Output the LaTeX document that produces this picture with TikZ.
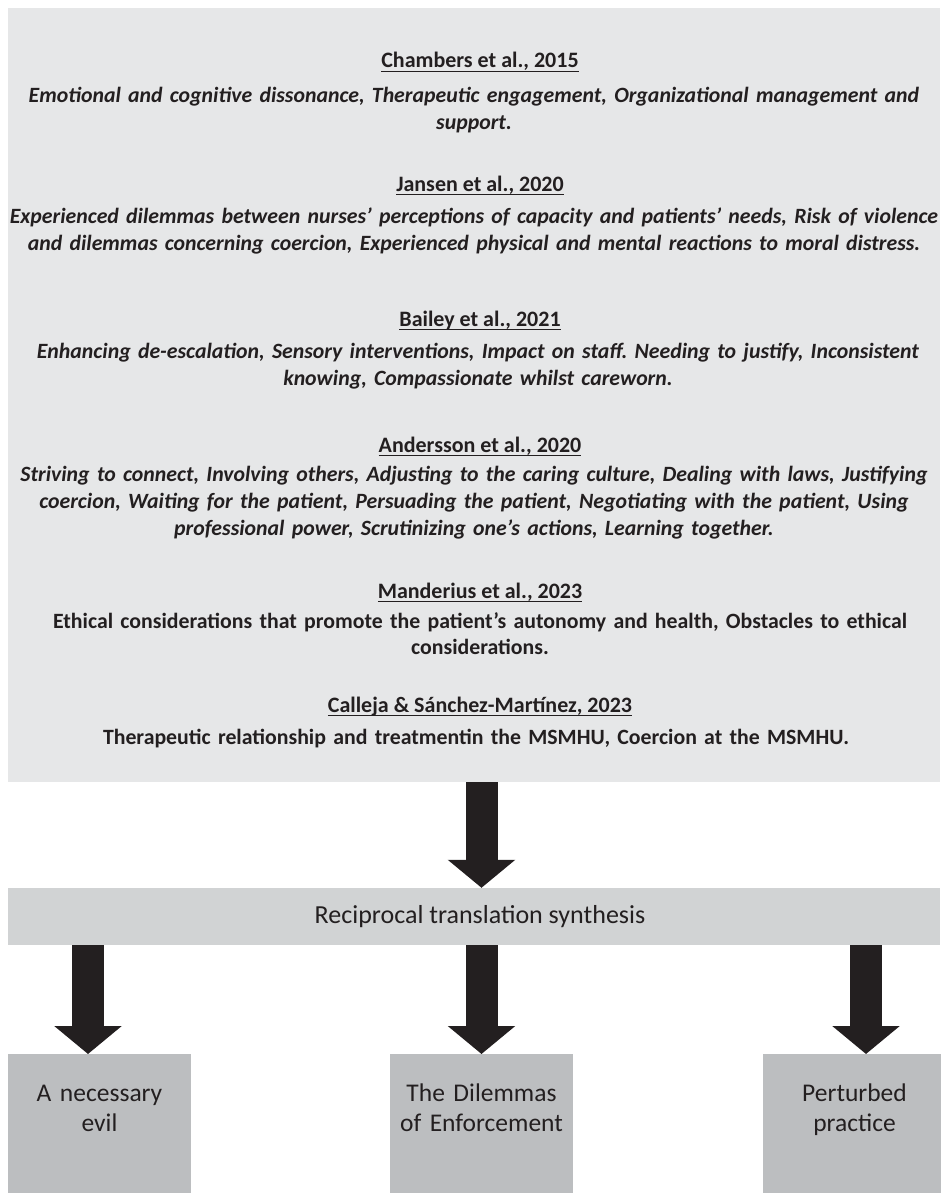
\documentclass[tikz,border=0pt]{standalone}
\usepackage{fontspec}
\setmainfont{Carlito}
\usetikzlibrary{arrows.meta,positioning}
\definecolor{studyfill}{HTML}{E6E7E8}
\definecolor{synthfill}{HTML}{D1D3D4}
\definecolor{themefill}{HTML}{BCBEC0}
\definecolor{inkdark}{HTML}{231F20}
\newcommand{\authul}[1]{\setbox0\hbox{#1}\rlap{\rule[-4pt]{\wd0}{1.4pt}}\box0}
\frenchspacing
\tikzset{
	studybox/.style={fill=studyfill, inner sep=0pt, anchor=north west},
	authors/.style={anchor=base, text=inkdark, font=\fontsize{22}{27}\selectfont\bfseries},
	findings/.style={anchor=base, text width=940pt, inner sep=0pt, align=center, text=inkdark,
		font=\fontsize{21.8}{27}\selectfont\bfseries\itshape},
	plainfind/.style={findings, font=\fontsize{21.8}{26}\selectfont\bfseries},
	synthbar/.style={fill=synthfill, inner sep=0pt, minimum width=932pt, minimum height=57pt,
		text=inkdark, font=\fontsize{26}{30}\selectfont},
	themebox/.style={fill=themefill, inner sep=0pt, anchor=north, minimum width=183pt, minimum height=139pt},
	themetext/.style={anchor=base, text width=183pt, inner sep=0pt, align=center, text=inkdark,
		font=\fontsize{25.5}{30}\selectfont},
	bigarrow/.style={draw=inkdark, line width=32pt, -{Triangle[width=66pt,length=28pt]}}
}
\begin{document}
\begin{tikzpicture}[x=1pt, y=-1pt]
	\useasboundingbox (0,0) rectangle (940,1193);
	%boxes
	\node[studybox, minimum width=932pt, minimum height=774pt] (studies) at (8,8) {};
	\node[synthbar] (synth) at (474,916.5) {\hspace*{12pt}Reciprocal translation synthesis};
	\node[themebox] (evil) at (99.5,1054) {};
	\node[themebox] (enforce) at (481.5,1054) {};
	\node[themebox] (perturb) at (854.5,1054) {};
	%studies
	\node[authors] (chambers) at (480,68) {\authul{Chambers et al., 2015}};
	\node[findings] (chambersf) at (474,103) {Emotional and cognitive dissonance, Therapeutic engagement, Organizational management and\\ support.};
	\node[authors] (jansen) at (480,191) {\authul{Jansen et al., 2020}};
	\node[findings] (jansenf) at (474,223) {Experienced dilemmas between nurses’ perceptions of capacity and patients’ needs, Risk of violence\\ and dilemmas concerning coercion, Experienced physical and mental reactions to moral distress.};
	\node[authors] (bailey) at (480,326) {\authul{Bailey et al., 2021}};
	\node[findings] (baileyf) at (478,358) {Enhancing de-escalation, Sensory interventions, Impact on staff. Needing to justify, Inconsistent\\ knowing, Compassionate whilst careworn.};
	\node[authors] (andersson) at (480,452) {\authul{Andersson et al., 2020}};
	\node[findings] (anderssonf) at (474,481) {Striving to connect, Involving others, Adjusting to the caring culture, Dealing with laws, Justifying\\ coercion, Waiting for the patient, Persuading the patient, Negotiating with the patient, Using\\ professional power, Scrutinizing one’s actions, Learning together.};
	\node[authors] (manderius) at (480,598) {\authul{Manderius et al., 2023}};
	\node[plainfind] (manderiusf) at (480,628) {Ethical considerations that promote the patient’s autonomy and health, Obstacles to ethical\\ considerations.};
	\node[authors] (calleja) at (480,712) {\authul{Calleja \& Sánchez-Martínez, 2023}};
	\node[plainfind] (callejaf) at (476,744) {Therapeutic relationship and treatmentin the MSMHU, Coercion at the MSMHU.};
	%themes
	\node[themetext] (eviltxt) at ([yshift=-47pt]evil.north) {A necessary\\ evil};
	\node[themetext] (enforcetxt) at ([yshift=-47pt]enforce.north) {The Dilemmas\\ of Enforcement};
	\node[themetext] (perturbtxt) at ([yshift=-47pt]perturb.north) {Perturbed\\ practice};
	%arrows
	\draw[bigarrow] (studies.south -| enforce.north) -- (synth.north -| enforce.north);
	\draw[bigarrow] ([xshift=-11.5pt]synth.south -| evil.north) -- ([xshift=-11.5pt]evil.north);
	\draw[bigarrow] (synth.south -| enforce.north) -- (enforce.north);
	\draw[bigarrow] ([xshift=11.5pt]synth.south -| perturb.north) -- ([xshift=11.5pt]perturb.north);
\end{tikzpicture}
\end{document}
